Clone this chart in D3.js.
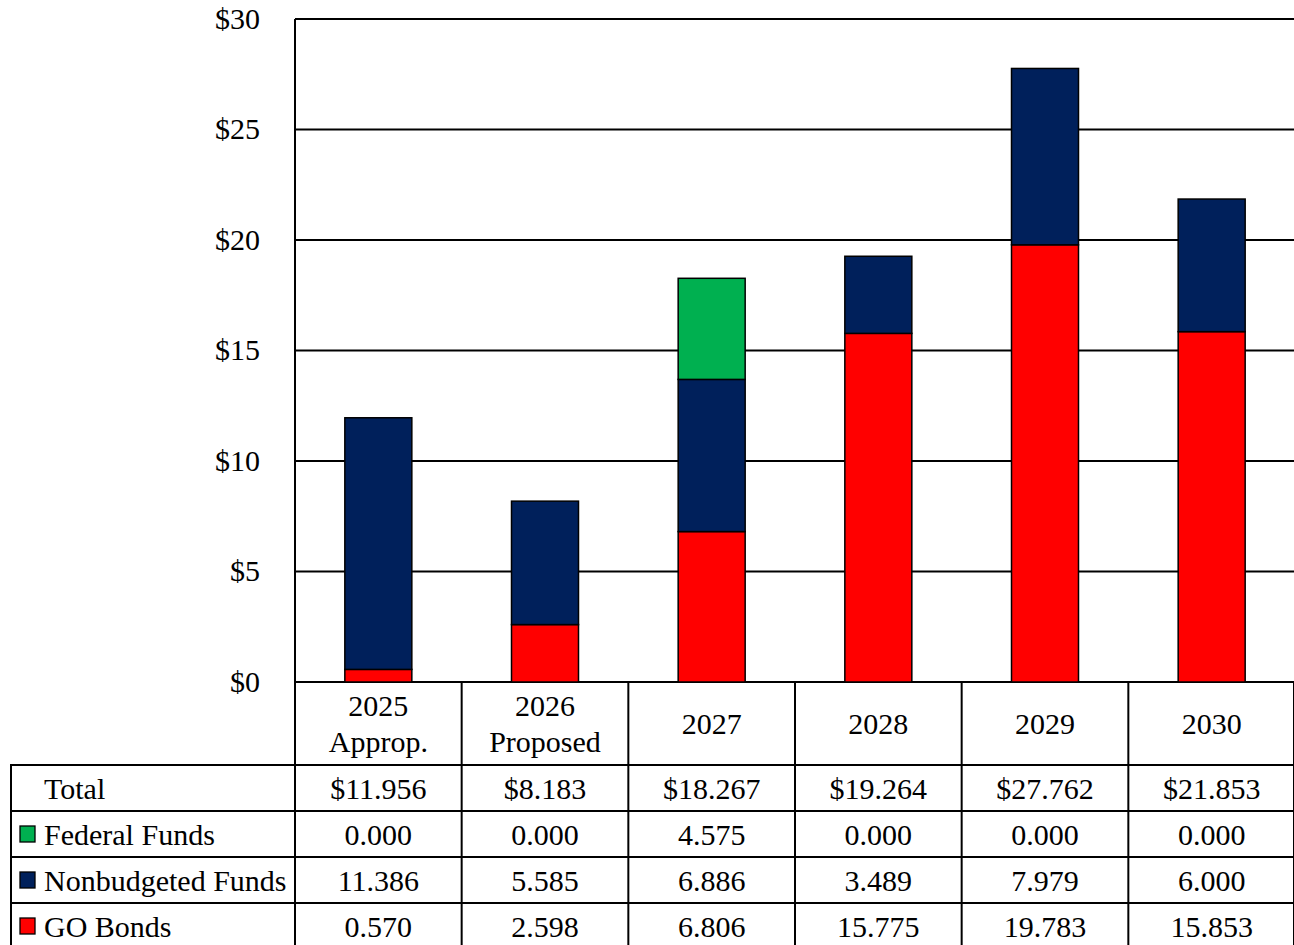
<!DOCTYPE html>
<html><head><meta charset="utf-8">
<script src="https://cdn.jsdelivr.net/npm/d3@7"></script>
<style>body{margin:0;background:#fff;} svg{display:block;} text{font-family:"Liberation Serif","Times New Roman",serif;fill:#000;}</style>
</head><body>
<svg id="c" width="1294" height="945"></svg>
<script>
const categories = ["2025|Approp.", "2026|Proposed", "2027", "2028", "2029", "2030"];
const goBonds = [0.570, 2.598, 6.806, 15.775, 19.783, 15.853];
const nonbudgeted = [11.386, 5.585, 6.886, 3.489, 7.979, 6.000];
const federal = [0.000, 0.000, 4.575, 0.000, 0.000, 0.000];
const totals = [11.956, 8.183, 18.267, 19.264, 27.762, 21.853];
const seriesNames = ["GO Bonds", "Nonbudgeted Funds", "Federal Funds"];
const seriesColors = ["#ff0000", "#00205b", "#00b050"];
const yTicks = [0, 5, 10, 15, 20, 25, 30];

const svg = d3.select("#c");
const L = 295, R = 1295, T = 19, B = 682;
const x = d3.scaleBand().domain(categories).range([L, R]).paddingInner(0).paddingOuter(0);
const y = d3.scaleLinear().domain([0, 30]).range([B, T]);
const FS = 30;

// gridlines
svg.append("g").selectAll("line").data(yTicks).join("line")
  .attr("x1", L).attr("x2", R).attr("y1", d => y(d)).attr("y2", d => y(d))
  .attr("stroke", "#000").attr("stroke-width", 2);
svg.append("line").attr("x1", L).attr("x2", L).attr("y1", T).attr("y2", B).attr("stroke", "#000").attr("stroke-width", 2);

// y tick labels
svg.append("g").selectAll("text").data(yTicks).join("text")
  .attr("x", 260).attr("y", d => y(d) - 1).attr("text-anchor", "end").attr("dominant-baseline", "central")
  .attr("font-size", FS).text(d => "$" + d);

// stacked bars
const rows = categories.map((c, i) => ({cat: c, s0: goBonds[i], s1: nonbudgeted[i], s2: federal[i]}));
const stack = d3.stack().keys(["s0", "s1", "s2"])(rows);
const barW = 67;
stack.forEach((layer, k) => {
  svg.append("g").selectAll("rect").data(layer.filter(d => d[1] - d[0] > 0)).join("rect")
    .attr("x", d => x(d.data.cat) + x.bandwidth() / 2 - barW / 2)
    .attr("width", barW)
    .attr("y", d => y(d[1]))
    .attr("height", d => y(d[0]) - y(d[1]))
    .attr("fill", seriesColors[k]).attr("stroke", "#000").attr("stroke-width", 1.5);
});

// table
const rowTops = [682, 765, 811, 857, 903, 949];
const tbl = svg.append("g");
const lineAttr = sel => sel.attr("stroke", "#000").attr("stroke-width", 2);
categories.forEach(c => {
  tbl.append("line").attr("x1", x(c)).attr("x2", x(c)).attr("y1", B).attr("y2", 945).call(lineAttr);
});
tbl.append("line").attr("x1", R - 1).attr("x2", R - 1).attr("y1", B).attr("y2", 945).call(lineAttr);
tbl.append("line").attr("x1", 11).attr("x2", 11).attr("y1", 765).attr("y2", 945).call(lineAttr);
[765, 811, 857, 903].forEach(yy => {
  tbl.append("line").attr("x1", 10).attr("x2", R).attr("y1", yy).attr("y2", yy).call(lineAttr);
});

// header labels
categories.forEach(c => {
  const parts = c.split("|");
  const cx = x(c) + x.bandwidth() / 2;
  const midY = (682 + 765) / 2;
  parts.forEach((p, j) => {
    tbl.append("text").attr("x", cx).attr("y", midY + (j - (parts.length - 1) / 2) * 36)
      .attr("text-anchor", "middle").attr("dominant-baseline", "central").attr("font-size", FS).text(p);
  });
});

// body rows
const fmt = d3.format(".3f");
const tableRows = [
  {label: "Total", vals: totals.map(v => "$" + fmt(v)), color: null},
  {label: seriesNames[2], vals: federal.map(fmt), color: seriesColors[2]},
  {label: seriesNames[1], vals: nonbudgeted.map(fmt), color: seriesColors[1]},
  {label: seriesNames[0], vals: goBonds.map(fmt), color: seriesColors[0]}
];
tableRows.forEach((r, i) => {
  const cy = (rowTops[i + 1] + rowTops[i + 2]) / 2;
  tbl.append("text").attr("x", 44).attr("y", cy).attr("dominant-baseline", "central").attr("font-size", FS).text(r.label);
  if (r.color) {
    tbl.append("rect").attr("x", 20).attr("y", cy - 8).attr("width", 15).attr("height", 16)
      .attr("fill", r.color).attr("stroke", "#000").attr("stroke-width", 1.3);
  }
  r.vals.forEach((v, j) => {
    tbl.append("text").attr("x", x(categories[j]) + x.bandwidth() / 2).attr("y", cy)
      .attr("text-anchor", "middle").attr("dominant-baseline", "central").attr("font-size", FS).text(v);
  });
});
</script>
</body></html>
